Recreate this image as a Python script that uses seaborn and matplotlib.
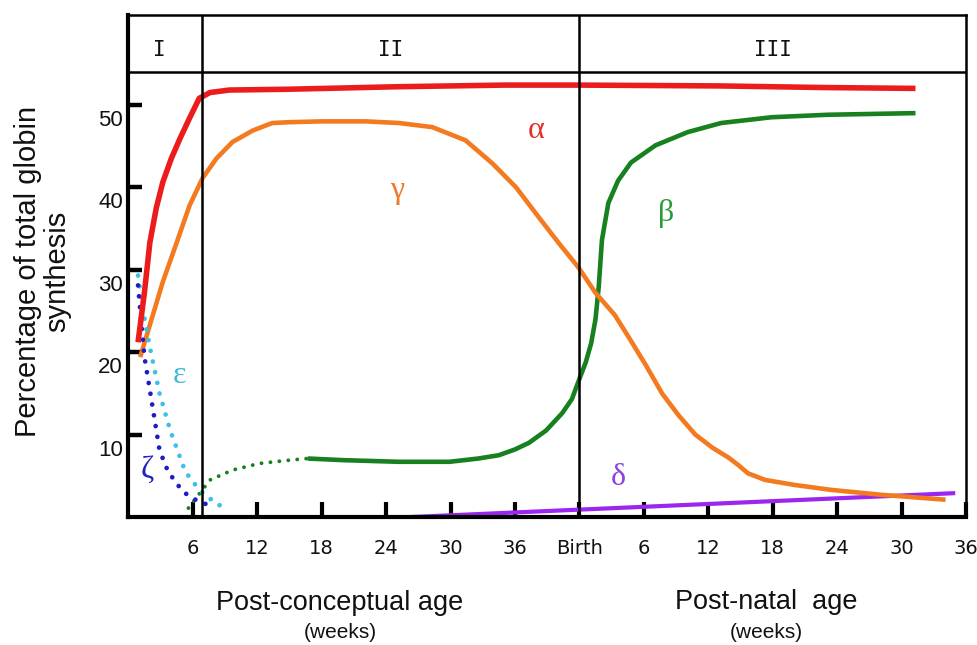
import matplotlib
matplotlib.use("Agg")
import matplotlib.pyplot as plt
import seaborn as sns
import pandas as pd

# ---------------- data (x in weeks after conception; birth = week 42) ----------------
birth_week = 42
pre_ticks = [6, 12, 18, 24, 30, 36]
post_ticks = [6, 12, 18, 24, 30, 36]
y_ticks = [10, 20, 30, 40, 50]

alpha_x = [0.9, 1.5, 2.0, 2.6, 3.2, 4.0, 4.8, 5.7, 6.6, 7.6, 9.4, 15.0, 25.0, 35.0, 42.0,
           55.0, 65.0, 73.3]
alpha_y = [21.2, 27.3, 33.3, 37.5, 40.6, 43.5, 45.9, 48.4, 50.8, 51.5, 51.8, 51.9, 52.2,
           52.4, 52.4, 52.3, 52.1, 52.0]

gamma_x = [1.1, 2.0, 3.2, 4.5, 5.7, 6.9, 8.2, 9.7, 11.6, 13.4, 15.0, 18.0, 22.1, 25.2,
           28.3, 31.4, 33.9, 36.1, 38.2, 40.1, 41.9, 43.5, 45.3, 46.6, 48.2, 49.7, 51.2,
           52.8, 54.4, 55.9, 56.8, 57.7, 59.3, 62.0, 65.4, 70.1, 76.1]
gamma_y = [19.4, 23.3, 28.5, 33.3, 37.8, 41.1, 43.5, 45.5, 46.9, 47.8, 47.9, 48.0, 48.0,
           47.8, 47.3, 45.7, 42.9, 40.0, 36.4, 33.2, 30.3, 27.2, 24.5, 21.8, 18.4, 15.0,
           12.4, 10.0, 8.4, 7.2, 6.3, 5.3, 4.5, 3.9, 3.3, 2.7, 2.1]

beta_early_x = [5.5, 5.6, 7.6, 9.7, 12.2, 15.0, 16.7]
beta_early_y = [0.0, 1.1, 4.5, 5.7, 6.5, 6.9, 7.1]

beta_x = [16.7, 20.0, 25.2, 29.9, 32.6, 34.5, 36.0, 37.3, 38.9, 40.4, 41.3, 41.9, 42.6,
          43.1, 43.5, 43.8, 44.1, 44.7, 45.6, 46.8, 49.1, 52.1, 55.2, 59.9, 65.1, 73.3]
beta_y = [7.1, 6.9, 6.7, 6.7, 7.1, 7.5, 8.2, 9.0, 10.5, 12.6, 14.3, 16.4, 18.8,
          21.1, 24.0, 27.9, 33.6, 38.1, 40.8, 43.0, 45.1, 46.7, 47.8, 48.5, 48.8, 49.0]

delta_x = [26.3, 77.0]
delta_y = [0.0, 2.9]

epsilon_x = [0.9, 1.4, 2.0, 2.9, 3.9, 5.3, 6.6, 8.3, 9.4]
epsilon_y = [29.3, 24.8, 20.6, 15.0, 10.5, 5.5, 3.3, 1.5, 1.1]

zeta_x = [0.9, 1.2, 1.5, 2.2, 2.9, 3.7, 5.0, 5.9, 7.9]
zeta_y = [28.1, 23.6, 19.4, 13.8, 8.1, 5.5, 3.2, 2.3, 1.2]

region_names = ["I", "II", "III"]
region_bounds = [6.9, birth_week]

# ---------------- figure ----------------
sns.set_theme(style="white")
plt.rcParams["font.family"] = ["Liberation Sans", "DejaVu Sans"]

fig = plt.figure(figsize=(9.77, 6.45), dpi=100)
ax = fig.add_axes([0.1314, 0.1984, 0.8573, 0.7783])

RED = "#ec1c1c"
ORANGE = "#f47a20"
GREEN = "#17801f"
PURPLE = "#9b26f0"
CYAN = "#3cc0e6"
BLUE = "#1c1cc8"

def line(x, y, color, lw, dotted=False):
    df = pd.DataFrame({"x": x, "y": y})
    kw = dict(data=df, x="x", y="y", ax=ax, color=color, linewidth=lw,
              estimator=None, sort=False, legend=False)
    if dotted:
        kw.update(linestyle=(0, (0.01, 2.3)), dash_capstyle="round")
    else:
        kw.update(solid_capstyle="butt", solid_joinstyle="round")
    sns.lineplot(**kw)

line(delta_x, delta_y, PURPLE, 3.0)
line(beta_early_x, beta_early_y, GREEN, 2.8, dotted=True)
line(beta_x, beta_y, GREEN, 3.3)
line(gamma_x, gamma_y, ORANGE, 3.3)
line(epsilon_x, epsilon_y, CYAN, 3.4, dotted=True)
line(zeta_x, zeta_y, BLUE, 3.4, dotted=True)
line(alpha_x, alpha_y, RED, 4.0)

# header band and region separators
ax.axhline(54, color="black", lw=1.8, zorder=5)
for b in region_bounds:
    ax.axvline(b, color="black", lw=1.8, zorder=5)

xmax = birth_week + post_ticks[-1]
ax.set_xlim(0, xmax)
ax.set_ylim(0, 60.9)

region_x = [region_bounds[0] / 2 - 0.6, (region_bounds[0] + region_bounds[1]) / 2,
            (region_bounds[1] + xmax) / 2]
for name, rx in zip(region_names, region_x):
    ax.text(rx, 56.6, name, ha="center", va="center", fontsize=15,
            family="DejaVu Sans Mono", color="#111111")

# greek labels
greek = [("α", 38.0, 46.9, "#e2302a"), ("γ", 25.0, 39.6, "#f07a2a"),
         ("β", 50.1, 36.8, "#2a9a3a"), ("ε", 4.8, 17.2, "#40b8d8"),
         ("ζ", 1.8, 5.7, "#2424c0"), ("δ", 45.6, 4.8, "#9040e0")]
for g, gx, gy, c in greek:
    ax.text(gx, gy, g, ha="center", va="center", fontsize=23,
            family=["Liberation Serif", "DejaVu Serif"], color=c)

# x ticks
xt = pre_ticks + [birth_week] + [birth_week + t for t in post_ticks]
xl = [str(t) for t in pre_ticks] + ["Birth"] + [str(t) for t in post_ticks]
ax.set_xticks(xt)
ax.set_xticklabels(xl, fontsize=14, family="DejaVu Sans")
ax.tick_params(axis="x", which="major", direction="in", length=11, width=3,
               color="black", pad=16, bottom=True, labelcolor="#111111")

# y ticks: marks at the values, labels slightly below them
ax.set_yticks(y_ticks)
ax.set_yticklabels([""] * len(y_ticks))
ax.set_yticks([v - 1.6 for v in y_ticks], minor=True)
ax.set_yticklabels([str(v) for v in y_ticks], minor=True, fontsize=16)
ax.tick_params(axis="y", which="major", direction="in", length=10, width=3.2,
               color="black", left=True)
ax.tick_params(axis="y", which="minor", length=0, pad=4, left=True,
               labelcolor="#111111")

for side in ["left", "bottom"]:
    ax.spines[side].set_linewidth(3.0)
for side in ["top", "right"]:
    ax.spines[side].set_linewidth(1.8)
for s in ax.spines.values():
    s.set_color("black")
    s.set_zorder(6)

ax.set_xlabel("")
ax.set_ylabel("")
fig.text(43 / 977, 1 - 271 / 645, "Percentage of total globin\nsynthesis",
         rotation=90, ha="center", va="center", fontsize=21, linespacing=1.05,
         color="#111111", multialignment="center")

fig.text(340 / 977, 1 - 603 / 645, "Post-conceptual age", ha="center", va="center",
         fontsize=19.5, color="#111111")
fig.text(340 / 977, 1 - 633 / 645, "(weeks)", ha="center", va="center",
         fontsize=15, color="#111111")
fig.text(766 / 977, 1 - 602 / 645, "Post-natal  age", ha="center", va="center",
         fontsize=19.5, color="#111111")
fig.text(766 / 977, 1 - 632 / 645, "(weeks)", ha="center", va="center",
         fontsize=15, color="#111111")

fig.savefig("out.png", dpi=100, facecolor="white")
